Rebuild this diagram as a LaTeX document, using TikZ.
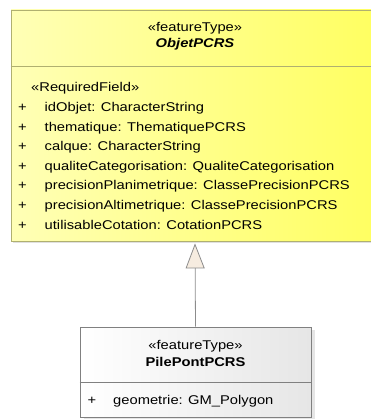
\documentclass[tikz,border=0pt]{standalone}
\usepackage{fontspec}
\setmainfont[FakeStretch=1.16]{Liberation Sans}
\usetikzlibrary{arrows.meta, shadows, positioning}

\definecolor{featLeft}{RGB}{255,255,182}
\definecolor{featRight}{RGB}{255,255,96}
\definecolor{featBorder}{RGB}{176,176,112}
\definecolor{pileRight}{RGB}{230,230,230}
\definecolor{pileBorder}{RGB}{128,128,128}
\definecolor{arrowFill}{RGB}{246,236,224}
\definecolor{arrowLine}{RGB}{140,140,140}

\begin{document}
\begin{tikzpicture}[
            x = 1pt, y = -1pt, % pixel units, y going down
            > = {Triangle[width=19pt, length=25pt, fill=arrowFill]}, % generalisation head
            font = \fontsize{12.7}{15}\selectfont,
            every node/.style = {inner sep=0pt}
        ]

        \tikzstyle{featurebox}=[
            draw = featBorder,
            line width = 0.8pt,
            left color = featLeft,
            right color = featRight,
            drop shadow = {shadow xshift=2pt, shadow yshift=-2pt, fill=black!30, opacity=0.4}
        ]
        \tikzstyle{pilebox}=[
            draw = pileBorder,
            line width = 0.6pt,
            left color = white,
            right color = pileRight,
            drop shadow = {shadow xshift=4pt, shadow yshift=-3pt, fill=black!25, opacity=0.4}
        ]
        \tikzstyle{txt}=[anchor=base west, text=black]
        \tikzstyle{plus}=[anchor=base, text=black]

        \useasboundingbox (0,0) rectangle (370,419);

        % boxes
        \node[featurebox, minimum width=368pt, minimum height=231pt] (objet) at (195,125.5) {};
        \node[pilebox, minimum width=231pt, minimum height=90pt] (pile) at (195.5,372) {};

        \draw[featBorder, line width=0.8pt] (objet.west |- 0,66) -- (objet.east |- 0,66);
        \draw[pileBorder, line width=0.6pt] (pile.west |- 0,382) -- (pile.east |- 0,382);

        % ObjetPCRS
        \node[anchor=base, text=black] (objetSt) at (195,32) {«featureType»};
        \node[anchor=base, text=black, font=\fontsize{12.7}{15}\selectfont\bfseries\itshape]
            (objetName) at (195,48) {ObjetPCRS};
        \node[txt] (reqField) at (31,92) {«RequiredField»};
        \foreach \attr [count=\i] in {
            idObjet: CharacterString,
            thematique: ThematiquePCRS,
            calque: CharacterString,
            qualiteCategorisation: QualiteCategorisation,
            precisionPlanimetrique: ClassePrecisionPCRS,
            precisionAltimetrique: ClassePrecisionPCRS,
            utilisableCotation: CotationPCRS}
        {
            \node[plus] (plus\i) at (22.5,92+19.6*\i) {+};
            \node[txt] (attr\i) at (44.5,92+19.6*\i) {\attr};
        }

        % PilePontPCRS
        \node[anchor=base, text=black] (pileSt) at (195.5,349) {«featureType»};
        \node[anchor=base, text=black, font=\fontsize{12.7}{15}\selectfont\bfseries]
            (pileName) at (195.5,366) {PilePontPCRS};
        \node[plus] (plusGeom) at (92,404) {+};
        \node[txt] (geom) at (113,404) {geometrie: GM\_Polygon};

        \draw[->, arrowLine, line width=0.8pt] (pile.north) -- ([yshift=-2pt]objet.south);

  \end{tikzpicture}
\end{document}
